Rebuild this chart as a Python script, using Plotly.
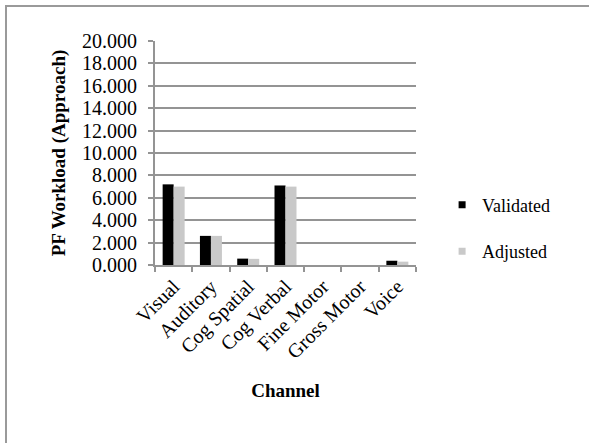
import plotly.graph_objects as go

# Channel workload values for the approach phase
channels = ["Visual", "Auditory", "Cog Spatial", "Cog Verbal", "Fine Motor", "Gross Motor", "Voice"]
validated = [7.2, 2.6, 0.57, 7.1, 0.0, 0.0, 0.38]
adjusted = [7.0, 2.6, 0.55, 7.0, 0.0, 0.0, 0.30]
y_ticks = [0, 2, 4, 6, 8, 10, 12, 14, 16, 18, 20]

FONT = "Liberation Serif"
GRID = "#949494"
W, H = 589, 443
L, R, T, B = 155, 173, 41, 178

fig = go.Figure()
fig.add_trace(go.Bar(x=channels, y=validated, name="Validated",
                     marker=dict(color="#000000", line=dict(width=0)), showlegend=False))
fig.add_trace(go.Bar(x=channels, y=adjusted, name="Adjusted",
                     marker=dict(color="#c9c9c9", line=dict(width=0)), showlegend=False))

# legend entries with small square swatches
for name, col, grp in [("Validated", "#000000", "a"), ("Adjusted", "#c9c9c9", "b")]:
    fig.add_trace(go.Scatter(x=[None], y=[None], mode="markers", name=name,
                             legendgroup=grp,
                             marker=dict(symbol="square", size=7, color=col)))

pw = W - L - R
ph = H - T - B
# outer chart frame
fig.add_shape(type="rect", xref="paper", yref="paper",
              x0=(6 - L) / pw, x1=2.0, y0=-2.0, y1=(H - B - 6) / ph,
              line=dict(color="#9a9a9a", width=2), layer="below")

fig.update_layout(
    width=W, height=H,
    margin=dict(l=L, r=R, t=T, b=B, pad=0),
    paper_bgcolor="white", plot_bgcolor="white",
    barmode="group", bargap=0.41, bargroupgap=0.0,
    font=dict(family=FONT, size=20, color="#000000"),
    legend=dict(x=1.1, y=0.35, xanchor="left", yanchor="top",
                traceorder="grouped", tracegroupgap=20,
                font=dict(family=FONT, size=18, color="#000000"),
                itemwidth=30, bgcolor="rgba(0,0,0,0)"),
    xaxis=dict(
        tickangle=-45, tickfont=dict(family=FONT, size=20),
        tickson="boundaries",
        showline=True, linecolor=GRID, linewidth=2,
        ticks="outside", tickcolor=GRID, ticklen=5, tickwidth=2,
        showgrid=False,
        title=dict(text="<b>Channel</b>", font=dict(family=FONT, size=19), standoff=22),
    ),
    yaxis=dict(
        range=[0, 20], tickvals=y_ticks, tickformat=".3f",
        tickfont=dict(family=FONT, size=20), ticklabelstandoff=7,
        showgrid=True, gridcolor=GRID, gridwidth=2,
        showline=True, linecolor=GRID, linewidth=2,
        ticks="outside", tickcolor=GRID, ticklen=5, tickwidth=2,
        zeroline=False,
        title=dict(text="<b>PF Workload (Approach)</b>", font=dict(family=FONT, size=19), standoff=11),
    ),
)

fig.write_html("out.html")
